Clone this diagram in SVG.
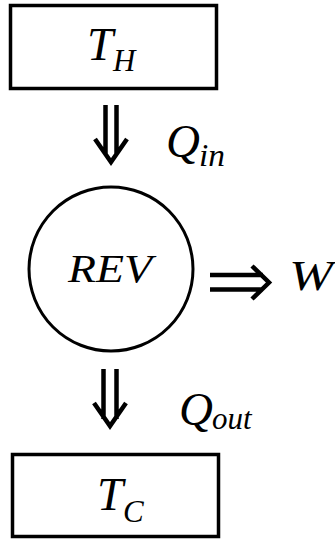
<svg xmlns="http://www.w3.org/2000/svg" width="335" height="539" viewBox="0 0 335 539">
<style>
.box{fill:none;stroke:#000;stroke-width:3.5}
.arr{fill:none;stroke:#000;stroke-width:4.5}
.t{font-family:"Liberation Serif","DejaVu Serif",serif;font-style:italic;fill:#000}
.big{font-size:47px}
.sub{font-size:31px}
</style>
<rect width="335" height="539" fill="#fff"/>
<g id="hot">
<rect class="box" x="10.5" y="5.5" width="206" height="83"/>
<text class="t big" x="87" y="60">T</text>
<text class="t sub" x="113" y="71">H</text>
</g>
<g id="rev">
<circle class="box" cx="111" cy="269" r="82" style="stroke-width:3"/>
<text class="t" x="68" y="282" font-size="39" textLength="84" lengthAdjust="spacingAndGlyphs">REV</text>
</g>
<g id="cold">
<rect class="box" x="12.5" y="454.5" width="206" height="82"/>
<text class="t big" x="97" y="510">T</text>
<text class="t sub" x="123" y="522">C</text>
</g>
<g id="connectors">
<g id="qin">
<path class="arr" d="M105.5 105V155M116.5 105V155M95 139L111 162L127 139"/>
<text class="t big" x="166" y="157">Q</text>
<text class="t sub" x="199" y="166" textLength="26" lengthAdjust="spacingAndGlyphs">in</text>
</g>
<g id="work">
<path class="arr" d="M210 275H263M210 289.5H263M252 266L269 282.5L252 299"/>
<text class="t" x="289" y="290" font-size="42" textLength="44" lengthAdjust="spacingAndGlyphs">W</text>
</g>
<g id="qout">
<path class="arr" d="M103.5 369V419M116.5 369V419M94 403L110 426L126 403"/>
<text class="t big" x="179" y="425">Q</text>
<text class="t sub" x="212" y="429">out</text>
</g>
</g>
</svg>
